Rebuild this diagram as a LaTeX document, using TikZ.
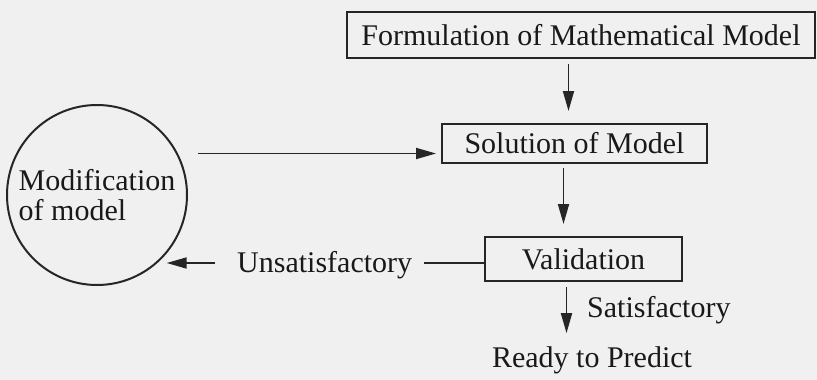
\documentclass[tikz,border=0pt]{standalone}
\usepackage{fontspec}
\setmainfont{Liberation Serif}
\usetikzlibrary{arrows.meta,positioning}
\begin{document}
\begin{tikzpicture}[
        x=1pt, y=1pt,
        font=\fontsize{30}{30}\selectfont,
        paso/.style={draw=black!85, line width=2pt, inner sep=2pt, text=black!90},
        circulo/.style={draw=black!85, line width=2pt, circle, minimum size=180pt, inner sep=0pt, align=left, text=black!90},
        etiqueta/.style={inner sep=2pt, text=black!90},
        linea/.style={draw=black!85, line width=1.8pt},
        flecha/.style={linea, -{Triangle[length=20pt, width=11pt]}}
    ]
        \fill[black!6] (0,0) rectangle (817,-380);
        \useasboundingbox (0,0) rectangle (817,-380);
        \node[paso, minimum width=468pt, minimum height=46pt] (form) at (581,-35) {Formulation of Mathematical Model};
        \node[paso, minimum width=265pt, minimum height=39pt, below=64pt of form, xshift=-6.5pt] (sol) {Solution of Model};
        \node[paso, minimum width=197pt, minimum height=44pt, below=72pt of sol, xshift=9pt] (val) {Validation};
        \node[etiqueta] (ready) at (592,-360) {Ready to Predict};
        \node[etiqueta, anchor=base west] (sat) at (585,-317) {Satisfactory};
        \node[etiqueta, anchor=base west] (unsat) at (235,-272) {Unsatisfactory};
        \node[circulo] (mod) at (97,-195) {Modification\\of model};

        \draw[flecha, shorten <=5pt, shorten >=12pt] ([xshift=-6pt]sol.north |- form.south) -- ([xshift=-6pt]sol.north);
        \draw[flecha, shorten <=4pt, shorten >=12pt] ([xshift=-11pt]sol.south) -- ([xshift=-11pt]sol.south |- val.north);
        \draw[flecha, shorten <=5pt, shorten >=11pt] ([xshift=-17pt]val.south) -- ([xshift=-17pt]val.south |- ready.north);
        \draw[flecha, shorten <=10pt, shorten >=5pt] ([yshift=-10pt]sol.west -| mod.east) -- ([yshift=-10pt]sol.west);
        \draw[linea, shorten <=10pt] ([yshift=-4pt]val.west -| unsat.east) -- ([yshift=-4pt]val.west);
        \draw[flecha, shorten <=20pt] ([yshift=-4pt]val.west -| unsat.west) -- ([yshift=-4pt]val.west -| mod.-40);
    \end{tikzpicture}
\end{document}
